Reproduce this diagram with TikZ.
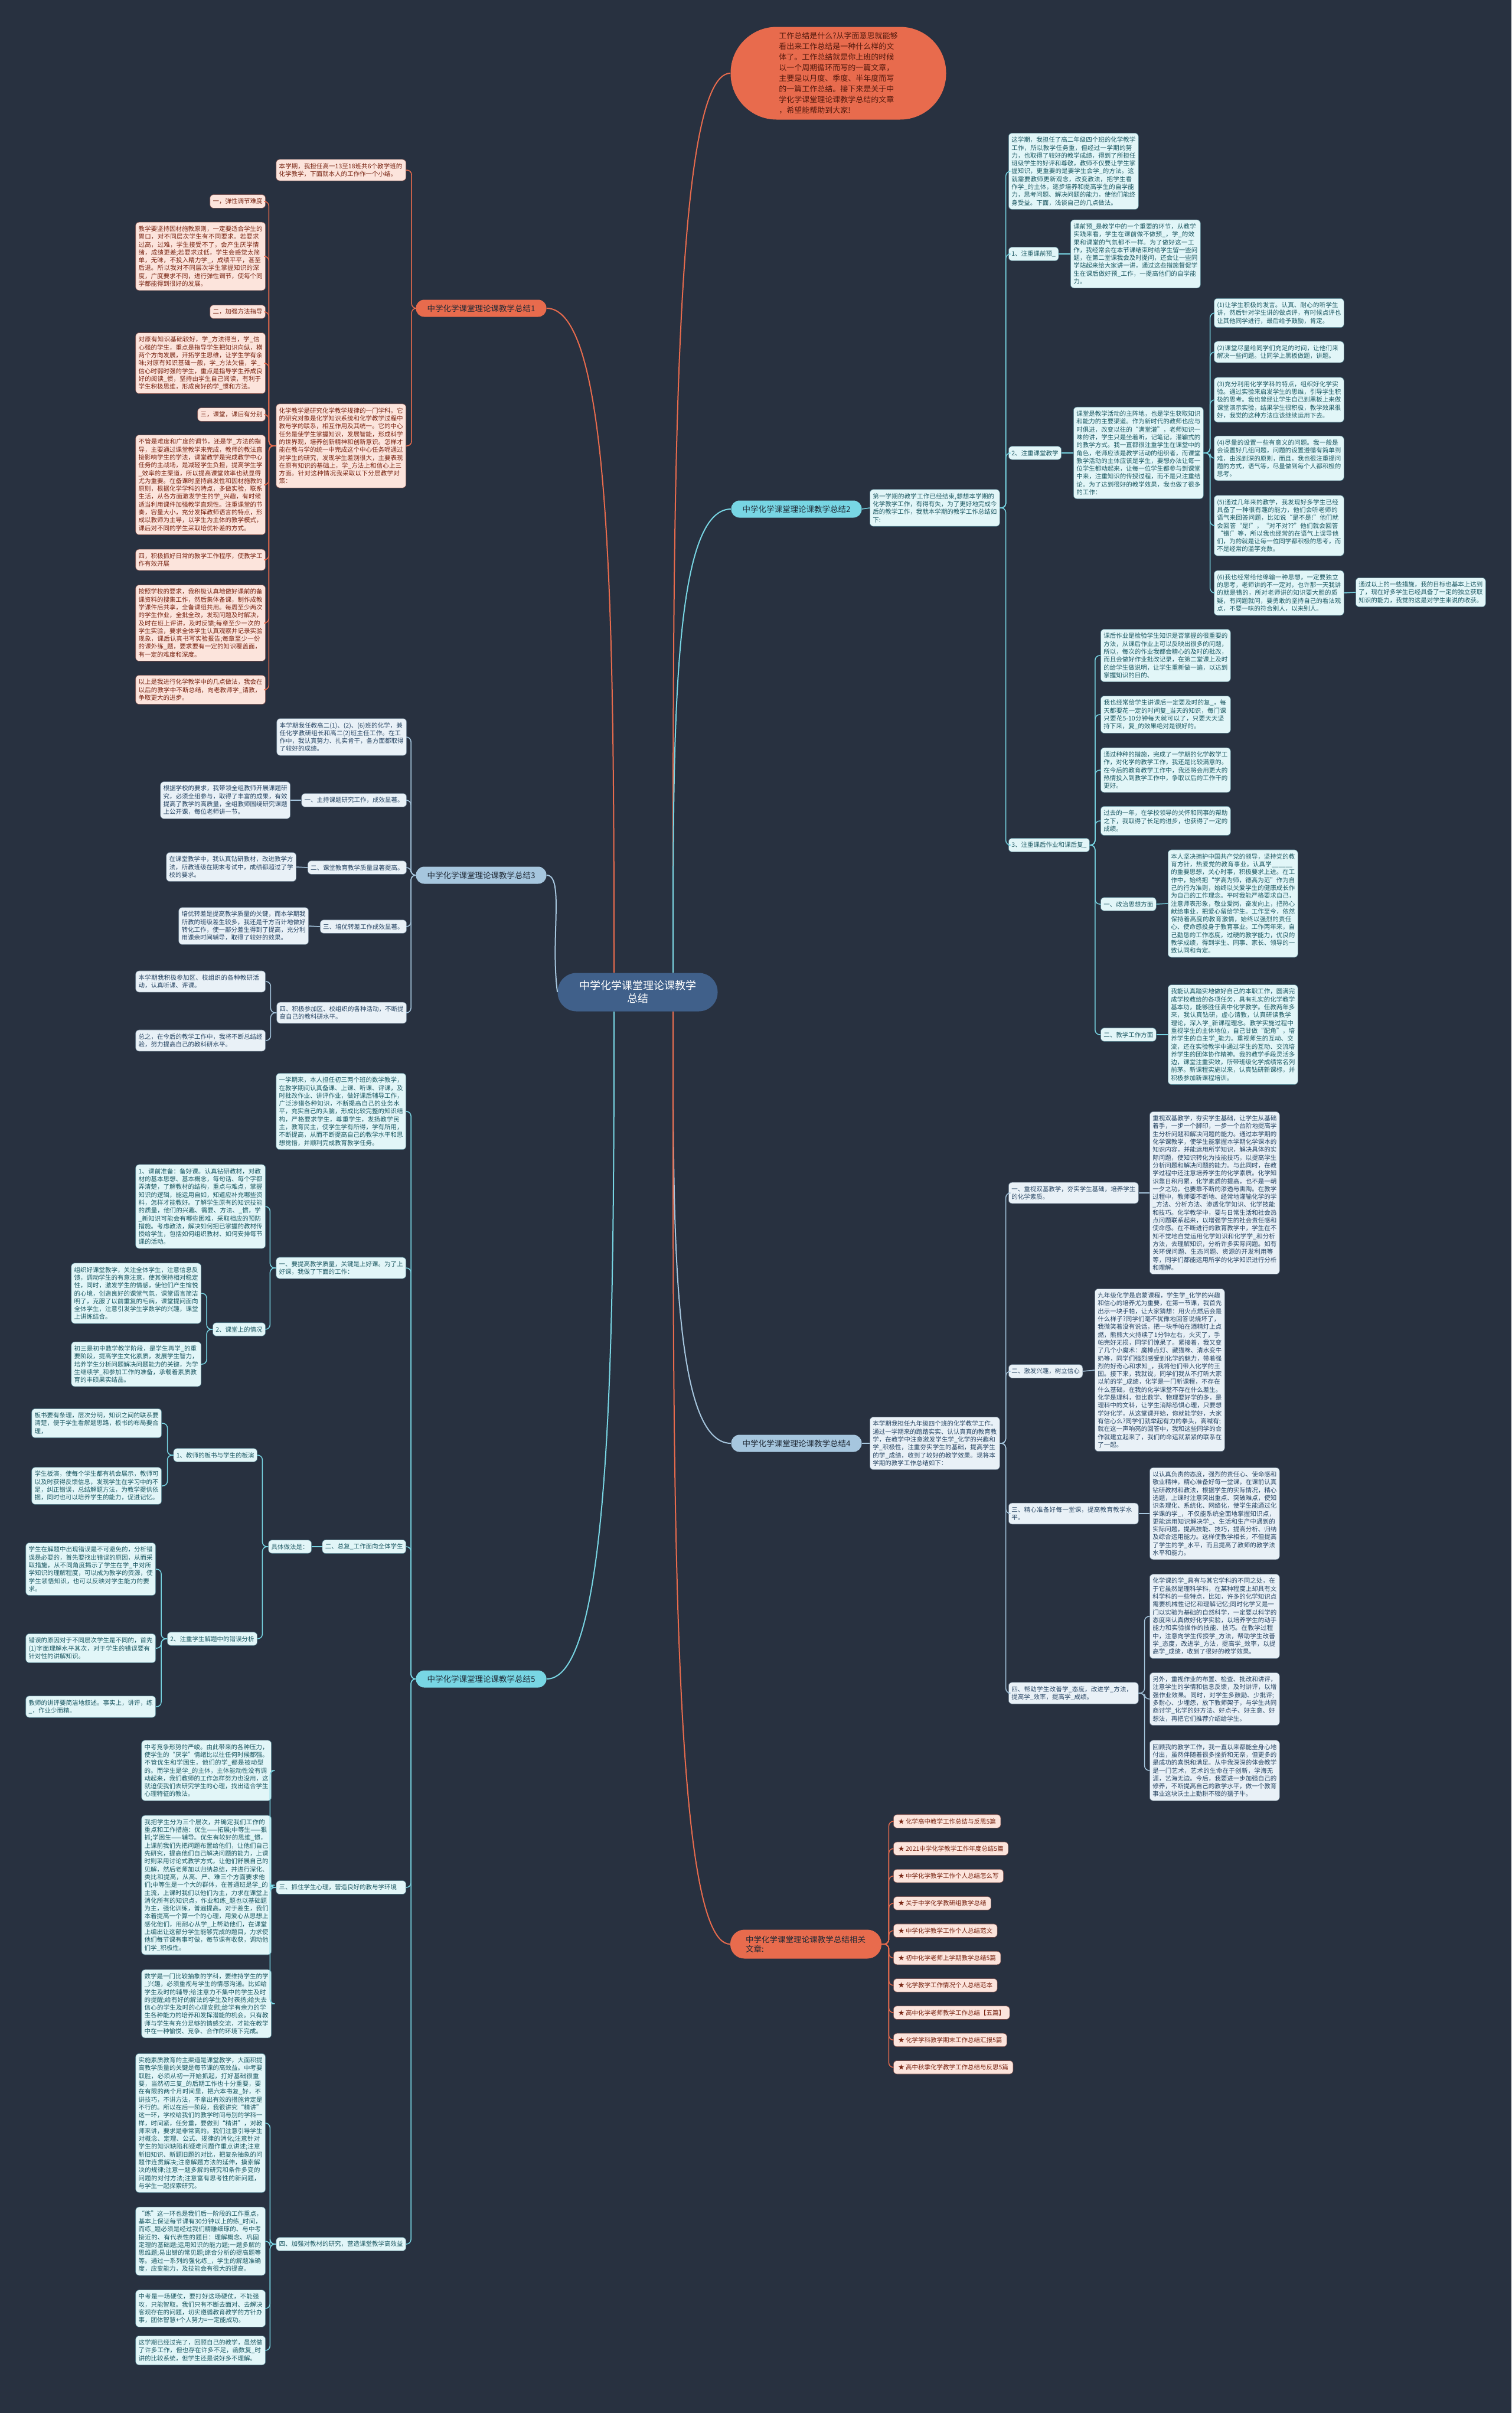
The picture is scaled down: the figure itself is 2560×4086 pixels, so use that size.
\documentclass[tikz,border=0pt]{standalone}
\usepackage{fontspec}
\setmainfont{Noto Sans CJK SC}
\XeTeXlinebreaklocale "zh"
\XeTeXlinebreakskip=0pt plus 0.5pt
\usepackage{xcolor}
\definecolor{bgnavy}{RGB}{40,49,64}
\definecolor{coral}{RGB}{232,107,77}
\definecolor{coralfill}{RGB}{252,228,220}
\definecolor{coraltext}{RGB}{120,36,18}
\definecolor{aqua}{RGB}{120,214,228}
\definecolor{aquafill}{RGB}{226,246,248}
\definecolor{aquatext}{RGB}{28,88,98}
\definecolor{steel}{RGB}{166,198,222}
\definecolor{steelfill}{RGB}{233,241,247}
\definecolor{steeltext}{RGB}{38,68,98}
\definecolor{hubblue}{RGB}{64,96,138}
\definecolor{labeltext}{RGB}{30,40,52}
\usetikzlibrary{positioning, calc}

\newcommand\parafont{\fontsize{5.25}{6.65}\selectfont}

\begin{document}
\begin{tikzpicture}[x=0.5pt, y=-0.5pt,
        hub/.style={rectangle, rounded corners=16pt, fill=hubblue, text=white, minimum width=135.5pt, minimum height=32.5pt, align=center, font=\fontsize{9}{11}\selectfont},
        intro/.style={rectangle, rounded corners=39pt, fill=coral, text=coraltext!70!black, minimum width=182.5pt, minimum height=78.5pt, align=left, font=\fontsize{6.5}{9}\selectfont},
        branch/.style={rectangle, rounded corners=7pt, minimum width=110.5pt, minimum height=14.5pt, font=\fontsize{6.75}{8}\selectfont, text=labeltext},
        para/.style={rectangle, rounded corners=3pt, inner xsep=2.5pt, inner ysep=3.2pt, text width=105pt, align=left, font=\parafont},
        head/.style={rectangle, rounded corners=3pt, inner xsep=2.5pt, inner ysep=3.2pt, font=\parafont},
        pinkbox/.style={fill=coralfill, text=coraltext, draw=coral!45!bgnavy, line width=0.3pt},
        seabox/.style={fill=aquafill, text=aquatext, draw=aqua!45!bgnavy, line width=0.3pt},
        icebox/.style={fill=steelfill, text=steeltext, draw=steel!45!bgnavy, line width=0.3pt},
        curve/.style={draw, line width=1pt},
        twig/.style={draw, line width=0.75pt, rounded corners=4pt}]

    \fill[bgnavy] (0,0) rectangle (2560,4086);
    \useasboundingbox (0,0) rectangle (2560,4086);

    \node[hub] (hub) at (1080,1680) {中学化学课堂理论课教学\\总结};
    \node[intro] (intro) at (1420,124) {工作总结是什么?从字面意思就能够\\看出来工作总结是一种什么样的文\\体了。工作总结就是你上班的时候\\以一个周期循环而写的一篇文章，\\主要是以月度、季度、半年度而写\\的一篇工作总结。接下来是关于中\\学化学课堂理论课教学总结的文章\\，希望能帮助到大家!};

    \node[branch, fill=coral] (b1) at (815,522) {中学化学课堂理论课教学总结1};
    \node[branch, fill=aqua] (b2) at (1349,862) {中学化学课堂理论课教学总结2};
    \node[branch, fill=steel] (b3) at (815,1482) {中学化学课堂理论课教学总结3};
    \node[branch, fill=steel] (b4) at (1349,2444) {中学化学课堂理论课教学总结4};
    \node[branch, fill=aqua] (b5) at (815,2843) {中学化学课堂理论课教学总结5};
    \node[branch, fill=coral, text width=102pt, align=left, minimum width=128pt, minimum height=24.5pt, rounded corners=12pt, inner xsep=12pt] (b6) at (1365,3292) {中学化学课堂理论课教学总结相关文章:};

    \draw[curve, coral] ($(hub.north)+(60,0)$) .. controls +(0,-760) and +(-100,0) .. (intro.west);
    \draw[curve, coral] ($(hub.north)+(-40,0)$) .. controls +(0,-600) and +(110,0) .. (b1.east);
    \draw[curve, aqua] ($(hub.north)+(60,0)$) .. controls +(0,-400) and +(-100,0) .. (b2.west);
    \draw[curve, steel] (hub.west) .. controls +(-12,-90) and +(30,0) .. (b3.east);
    \draw[curve, steel] ($(hub.south)+(60,0)$) .. controls +(0,365) and +(-100,0) .. (b4.west);
    \draw[curve, aqua] ($(hub.south)+(-40,0)$) .. controls +(0,560) and +(110,0) .. (b5.east);
    \draw[curve, coral] ($(hub.south)+(60,0)$) .. controls +(0,790) and +(-100,0) .. (b6.west);

    % 1
    \node[para, pinkbox, anchor=east] (b1pa) at (688,288) {本学期，我担任高一13至18班共6个教学班的化学教学，下面就本人的工作作一个小结。};
    \node[para, pinkbox, anchor=east] (b1pb) at (688,755) {化学教学是研究化学教学规律的一门学科。它的研究对象是化学知识系统和化学教学过程中教与学的联系，相互作用及其统一。它的中心任务是使学生掌握知识，发展智能，形成科学的世界观，培养创新精神和创新意识。怎样才能在教与学的统一中完成这个中心任务呢通过对学生的研究，发现学生差别很大，主要表现在原有知识的基础上，学\_方法上和信心上三方面。针对这种情况我采取以下分层教学对策：};
    \node[head, pinkbox, anchor=east] (b1h1) at (450,341) {一，弹性调节难度};
    \node[para, pinkbox, anchor=east] (b1p1) at (450,434) {教学要坚持因材施教原则，一定要适合学生的胃口，对不同层次学生有不同要求。若要求过高，过难，学生接受不了，会产生厌学情绪，成绩更差;若要求过低，学生会感觉太简单，无味，不投入精力学\_，成绩平平，甚至后退。所以我对不同层次学生掌握知识的深度，广度要求不同，进行弹性调节，使每个同学都能得到很好的发展。};
    \node[head, pinkbox, anchor=east] (b1h2) at (450,528) {二，加强方法指导};
    \node[para, pinkbox, anchor=east] (b1p2) at (450,615) {对原有知识基础较好，学\_方法得当，学\_信心强的学生，重点是指导学生把知识向纵，横两个方向发展，开拓学生思维，让学生学有余味;对原有知识基础一般，学\_方法欠佳，学\_信心时弱时强的学生，重点是指导学生养成良好的阅读\_惯，坚持由学生自己阅读，有利于学生积极思维，形成良好的学\_惯和方法。};
    \node[head, pinkbox, anchor=east] (b1h3) at (450,702) {三，课堂，课后有分别};
    \node[para, pinkbox, anchor=east] (b1p3) at (450,821) {不管是难度和广度的调节，还是学\_方法的指导，主要通过课堂教学来完成，教师的教法直接影响学生的学法，课堂教学是完成教学中心任务的主战场，是减轻学生负担，提高学生学\_效率的主渠道，所以提高课堂效率也就显得尤为重要。在备课时坚持启发性和因材施教的原则，根据化学学科的特点，多做实验，联系生活，从各方面激发学生的学\_兴趣，有时候适当利用课件加强教学直观性。注重课堂的节奏，容量大小，充分发挥教师语言的特点，形成以教师为主导，以学生为主体的教学模式，课后对不同的学生采取培优补差的方式。};
    \node[para, pinkbox, anchor=east] (b1h4) at (450,948) {四，积极抓好日常的教学工作程序，使教学工作有效开展};
    \node[para, pinkbox, anchor=east] (b1p4) at (450,1055) {按照学校的要求，我积极认真地做好课前的备课资料的搜集工作，然后集体备课，制作成教学课件后共享，全备课组共用。每周至少两次的学生作业，全批全改，发现问题及时解决，及时在班上评讲，及时反馈;每章至少一次的学生实验，要求全体学生认真观察并记录实验现象，课后认真书写实验报告;每章至少一份的课外练\_题，要求要有一定的知识覆盖面，有一定的难度和深度。};
    \node[para, pinkbox, anchor=east] (b1p5) at (450,1168) {以上是我进行化学教学中的几点做法，我会在以后的教学中不断总结，向老教师学\_请教，争取更大的进步。};

    \foreach \n in {b1pa,b1pb} \draw[twig, coral] (b1.west) -- ++(-7,0) |- (\n.east);
    \foreach \n in {b1h1,b1p1,b1h2,b1p2,b1h3,b1p3,b1h4,b1p4,b1p5} \draw[twig, coral] (b1pb.west) -- ++(-12,0) |- (\n.east);

    % 3
    \node[para, icebox, anchor=east] (b3pa) at (689,1248) {本学期我任教高二(1)、(2)、(6)班的化学，兼任化学教研组长和高二(2)班主任工作。在工作中，我认真努力、扎实肯干，各方面都取得了较好的成绩。};
    \node[head, icebox, anchor=east] (b3h1) at (689,1355) {一、主持课题研究工作，成效显著。};
    \node[head, icebox, anchor=east] (b3h2) at (689,1469) {二、课堂教育教学质量显著提高。};
    \node[head, icebox, anchor=east] (b3h3) at (689,1569) {三、培优转差工作成效显著。};
    \node[para, icebox, anchor=east] (b3h4) at (689,1715) {四、积极参加区、校组织的各种活动，不断提高自己的教科研水平。};
    \node[para, icebox, anchor=east] (b3p1) at (492,1355) {根据学校的要求，我带领全组教师开展课题研究，必须全组参与，取得了丰富的成果，有效提高了教学的高质量，全组教师围绕研究课题上公开课，每位老师讲一节。};
    \node[para, icebox, anchor=east] (b3p2) at (502,1468) {在课堂教学中，我认真钻研教材，改进教学方法，所教班级在期末考试中，成绩都超过了学校的要求。};
    \node[para, icebox, anchor=east] (b3p3) at (523,1568) {培优转差是提高教学质量的关键，而本学期我所教的班级差生较多，我还是千方百计地做好转化工作，使一部分差生得到了提高，充分利用课余时间辅导，取得了较好的效果。};
    \node[para, icebox, anchor=east] (b3p4) at (450,1662) {本学期我积极参加区、校组织的各种教研活动，认真听课、评课。};
    \node[para, icebox, anchor=east] (b3p5) at (450,1762) {总之，在今后的教学工作中，我将不断总结经验，努力提高自己的教科研水平。};

    \foreach \n in {b3pa,b3h1,b3h2,b3h3,b3h4} \draw[twig, steel] (b3.west) -- ++(-8,0) |- (\n.east);
    \draw[twig, steel] (b3h1.west) -- (b3p1.east);
    \draw[twig, steel] (b3h2.west) -- (b3p2.east);
    \draw[twig, steel] (b3h3.west) -- (b3p3.east);
    \foreach \n in {b3p4,b3p5} \draw[twig, steel] (b3h4.west) -- ++(-10,0) |- (\n.east);

    % 5
    \node[para, seabox, anchor=east] (b5pa) at (688,1882) {一学期来，本人担任初三两个班的数学教学，在教学期间认真备课、上课、听课、评课，及时批改作业、讲评作业，做好课后辅导工作，广泛涉猎各种知识，不断提高自己的业务水平，充实自己的头脑，形成比较完整的知识结构，严格要求学生，尊重学生，发扬教学民主，教育民主，使学生学有所得，学有所用，不断提高，从而不断提高自己的教学水平和思想觉悟，并顺利完成教育教学任务。};
    \node[para, seabox, anchor=east] (b5h1) at (688,2147) {一、要提高教学质量，关键是上好课。为了上好课，我做了下面的工作：};
    \node[para, seabox, anchor=east] (b5c1) at (450,2043) {1、课前准备：备好课。认真钻研教材，对教材的基本思想、基本概念，每句话、每个字都弄清楚，了解教材的结构，重点与难点，掌握知识的逻辑，能运用自如，知道应补充哪些资料，怎样才能教好。了解学生原有的知识技能的质量，他们的兴趣、需要、方法、\_惯，学\_新知识可能会有哪些困难，采取相应的预防措施。考虑教法，解决如何把已掌握的教材传授给学生，包括如何组织教材、如何安排每节课的活动。};
    \node[head, seabox, anchor=east] (b5c2) at (450,2251) {2、课堂上的情况};
    \node[para, seabox, anchor=east] (b5c2a) at (341,2190) {组织好课堂教学，关注全体学生，注意信息反馈，调动学生的有意注意，使其保持相对稳定性，同时，激发学生的情感，使他们产生愉悦的心境，创造良好的课堂气氛，课堂语言简洁明了，克服了以前重复的毛病，课堂提问面向全体学生，注意引发学生学数学的兴趣，课堂上讲练结合。};
    \node[para, seabox, anchor=east] (b5c2b) at (341,2310) {初三是初中数学教学阶段，是学生再学\_的重要阶段，提高学生文化素质，发展学生智力，培养学生分析问题解决问题能力的关键，为学生继续学\_和参加工作的准备，承载着素质教育的丰硕果实结晶。};
    \node[head, seabox, anchor=east] (b5h2) at (688,2619) {二、总复\_工作面向全体学生};
    \node[head, seabox, anchor=east] (b5jt) at (528,2619) {具体做法是：};
    \node[head, seabox, anchor=east] (b5d1) at (436,2464) {1、教师的板书与学生的板演};
    \node[para, seabox, anchor=east] (b5d1a) at (274,2410) {板书要有条理，层次分明，知识之间的联系要清楚，便于学生看解题思路，板书的布局要合理，};
    \node[para, seabox, anchor=east] (b5d1b) at (274,2516) {学生板演，使每个学生都有机会展示，教师可以及时获得反馈信息，发现学生在学习中的不足，纠正错误，总结解题方法，为教学提供依据，同时也可以培养学生的能力，促进记忆。};
    \node[head, seabox, anchor=east] (b5d2) at (436,2775) {2、注重学生解题中的错误分析};
    \node[para, seabox, anchor=east] (b5d2a) at (264,2657) {学生在解题中出现错误是不可避免的，分析错误是必要的，首先要找出错误的原因，从而采取措施，从不同角度揭示了学生在学\_中对所学知识的理解程度，可以成为教学的资源，使学生领悟知识，也可以反映对学生能力的要求。};
    \node[para, seabox, anchor=east] (b5d2b) at (264,2791) {错误的原因对于不同层次学生是不同的，首先(1)字面理解水平其次，对于学生的错误要有针对性的讲解知识。};
    \node[para, seabox, anchor=east] (b5d2c) at (264,2890) {教师的讲评要简洁地叙述。事实上，讲评，练\_，作业少而精。};
    \node[para, seabox, anchor=east] (b5h3) at (688,3196) {三、抓住学生心理，营造良好的教与学环境};
    \node[para, seabox, anchor=east] (b5e1) at (460,2998) {中考竞争形势的严峻。由此带来的各种压力，使学生的“厌学”情绪比以往任何时候都强。不管优生和学困生，他们的学\_都是被动型的。而学生是学\_的主体，主体能动性没有调动起来，我们教师的工作怎样努力也没用，这就迫使我们去研究学生的心理，找出适合学生心理特征的教法。};
    \node[para, seabox, anchor=east] (b5e2) at (460,3192) {我把学生分为三个层次，并确定我们工作的重点和工作措施：优生——拓展;中等生——狠抓;学困生——辅导。优生有较好的思维\_惯，上课前我们先把问题布置给他们，让他们自己先研究，提高他们自己解决问题的能力，上课时则采用讨论式教学方式，让他们舒展自己的见解，然后老师加以归纳总结，并进行深化、类比和提高，从高、严、难三个方面要求他们;中等生是一个大的群体，在普通班是学\_的主流，上课时我们以他们为主，力求在课堂上消化所有的知识点，作业和练\_题也以基础题为主，强化训练，普遍提高。对于差生，我们本着提高一个算一个的心理，用爱心从思想上感化他们，用耐心从学\_上帮助他们，在课堂上编出让这部分学生能够完成的题目，力求使他们每节课有事可做，每节课有收获，调动他们学\_积极性。};
    \node[para, seabox, anchor=east] (b5e3) at (460,3393) {数学是一门比较抽象的学科，要维持学生的学\_兴趣，必须重视与学生的情感沟通。比如给学生及时的辅导;给注意力不集中的学生及时的提醒;给有好的解法的学生及时表扬;给失去信心的学生及时的心理安慰;给学有余力的学生各种能力的培养和发挥潜能的机会。只有教师与学生有充分足够的情感交流，才能在教学中在一种愉悦、竞争、合作的环境下完成。};
    \node[para, seabox, anchor=east] (b5h4) at (688,3800) {四、加强对教材的研究，营造课堂教学高效益};
    \node[para, seabox, anchor=east] (b5f1) at (450,3595) {实施素质教育的主渠道是课堂教学，大面积提高教学质量的关键是每节课的高效益。中考要取胜，必须从初一开始抓起，打好基础很重要，当然初三复\_的后期工作也十分重要，要在有限的两个月时间里，把六本书复\_好，不讲技巧，不讲方法，不拿出有效的措施肯定是不行的。所以在后一阶段，我很讲究“精讲”这一环，学校给我们的教学时间与别的学科一样，时间紧，任务重，要做到“精讲”，对教师来讲，要求是非常高的。我们注意引导学生对概念、定理、公式、规律的消化;注意针对学生的知识缺陷和疑难问题作重点讲述;注意新旧知识、新题旧题的对比，把复杂抽象的问题作连贯解决;注意解题方法的延伸，摸索解决的规律;注意一题多解的研究和条件多变的问题的对付方法;注意富有思考性的新问题，与学生一起探索研究。};
    \node[para, seabox, anchor=east] (b5f2) at (450,3795) {“练”这一环也是我们后一阶段的工作重点，基本上保证每节课有30分钟以上的练\_时间，而练\_题必须是经过我们精雕细琢的、与中考接近的、有代表性的题目：理解概念、巩固定理的基础题;运用知识的能力题;一题多解的思维题;易出错的常见题;综合分析的提高题等等。通过一系列的强化练\_，学生的解题准确度，应变能力，及技能会有很大的提高。};
    \node[para, seabox, anchor=east] (b5f3) at (450,3909) {中考是一场硬仗，要打好这场硬仗，不能强攻，只能智取。我们只有不断去面对、去解决客观存在的问题，切实遵循教育教学的方针办事，团体智慧+个人努力=一定能成功。};
    \node[para, seabox, anchor=east] (b5f4) at (450,3980) {这学期已经过完了，回顾自己的教学，虽然做了许多工作，但也存在许多不足，函数复\_时讲的比较系统，但学生还是说好多不理解。};

    \foreach \n in {b5pa,b5h1,b5h2,b5h3,b5h4} \draw[twig, aqua] (b5.west) -- ++(-8,0) |- (\n.east);
    \foreach \n in {b5c1,b5c2} \draw[twig, aqua] (b5h1.west) -- ++(-10,0) |- (\n.east);
    \foreach \n in {b5c2a,b5c2b} \draw[twig, aqua] (b5c2.west) -- ++(-10,0) |- (\n.east);
    \draw[twig, aqua] (b5h2.west) -- (b5jt.east);
    \foreach \n in {b5d1,b5d2} \draw[twig, aqua] (b5jt.west) -- ++(-10,0) |- (\n.east);
    \foreach \n in {b5d1a,b5d1b} \draw[twig, aqua] (b5d1.west) -- ++(-10,0) |- (\n.east);
    \foreach \n in {b5d2a,b5d2b,b5d2c} \draw[twig, aqua] (b5d2.west) -- ++(-10,0) |- (\n.east);
    \foreach \n in {b5e1,b5e2,b5e3} \draw[twig, aqua] (b5h3.west) -- ++(-10,0) |- (\n.east);
    \foreach \n in {b5f1,b5f2,b5f3,b5f4} \draw[twig, aqua] (b5h4.west) -- ++(-10,0) |- (\n.east);

    % 2
    \node[para, seabox, anchor=west] (b2p) at (1473,860) {第一学期的教学工作已经结束,想想本学期的化学教学工作，有得有失，为了更好地完成今后的教学工作，我就本学期的教学工作总结如下:};
    \node[para, seabox, anchor=west] (b2pa) at (1708,290) {这学期，我担任了高二年级四个班的化学教学工作，所以教学任务重，但经过一学期的努力，也取得了较好的教学成绩，得到了所担任班级学生的好评和尊敬，教师不仅要让学生掌握知识，更重要的是要学生会学\_的方法。这就需要教师更新观念，改变教法，把学生看作学\_的主体，逐步培养和提高学生的自学能力，思考问题、解决问题的能力，使他们能终身受益。下面，浅谈自己的几点做法。};
    \node[head, seabox, anchor=west] (b2k1) at (1708,430) {1、注重课前预\_};
    \node[para, seabox, anchor=west] (b2k1p) at (1813,430) {课前预\_是教学中的一个重要的环节，从教学实践来看，学生在课前做不做预\_，学\_的效果和课堂的气氛都不一样。为了做好这一工作，我经常会在本节课结束时给学生留一些问题，在第二堂课我会及时提问，还会让一些同学站起来给大家讲一讲，通过这些措施督促学生在课后做好预\_工作，一提高他们的自学能力。};
    \node[head, seabox, anchor=west] (b2k2) at (1708,767) {2、注重课堂教学};
    \node[para, seabox, anchor=west] (b2k2p) at (1818,767) {课堂是教学活动的主阵地，也是学生获取知识和能力的主要渠道。作为新时代的教师也应与时俱进，改变以往的“满堂灌”，老师知识一味的讲，学生只是坐着听，记笔记，灌输式的的教学方式。我一直都很注重学生在课堂中的角色，老师应该是教学活动的组织者，而课堂教学活动的主体应该是学生，要想办法让每一位学生都动起来，让每一位学生都参与到课堂中来，注重知识的传授过程，而不是只注重结论。为了达到很好的教学效果，我也做了很多的工作：};
    \node[para, seabox, anchor=west] (b2m1) at (2056,530) {(1)让学生积极的发言。认真、耐心的听学生讲，然后针对学生讲的做点评，有时候点评也让其他同学进行，最后给予鼓励，肯定。};
    \node[para, seabox, anchor=west] (b2m2) at (2056,596) {(2)课堂尽量给同学们充足的时间，让他们来解决一些问题。让同学上黑板做题，讲题。};
    \node[para, seabox, anchor=west] (b2m3) at (2056,677) {(3)充分利用化学学科的特点，组织好化学实验。通过实验来启发学生的思维，引导学生积极的思考。我也曾经让学生自己到黑板上来做课堂演示实验，结果学生很积极，教学效果很好，我觉的这种方法应该继续运用下去。};
    \node[para, seabox, anchor=west] (b2m4) at (2056,776) {(4)尽量的设置一些有意义的问题。我一般是会设置好几组问题，问题的设置遵循有简单到难，由浅到深的原则，而且，我也很注重提问题的方式，语气等，尽量做到每个人都积极的思考。};
    \node[para, seabox, anchor=west] (b2m5) at (2056,890) {(5)通过几年来的教学，我发现好多学生已经具备了一种很有趣的能力，他们会听老师的语气来回答问题，比如说“是不是!”他们就会回答“是!”，“对不对??”他们就会回答“错!”等，所以我也经常的在语气上误导他们，为的就是让每一位同学都积极的思考，而不是经常的滥竽充数。};
    \node[para, seabox, anchor=west] (b2m6) at (2056,1004) {(6)我也经常给他绵输一种思想，一定要独立的思考，老师讲的不一定对，也许那一天我讲的就是错的，所对老师讲的知识要大胆的质疑，有问题就问，要勇敢的坚持自己的看法观点，不要一味的符合别人，以来别人。};
    \node[para, seabox, anchor=west] (b2m6p) at (2296,1003) {通过以上的一些措施，我的目标也基本上达到了，现在好多学生已经具备了一定的独立获取知识的能力，我觉的这是对学生来说的收获。};
    \node[head, seabox, anchor=west] (b2k3) at (1708,1431) {3、注重课后作业和课后复\_};
    \node[para, seabox, anchor=west] (b2n1) at (1864,1110) {课后作业是检验学生知识是否掌握的很重要的方法，从课后作业上可以反映出很多的问题，所以，每次的作业我都会精心的及时的批改，而且会做好作业批改记录，在第二堂课上及时的给学生做说明，让学生重新做一遍，以达到掌握知识的目的、};
    \node[para, seabox, anchor=west] (b2n2) at (1864,1210) {我也经常给学生讲课后一定要及时的复\_，每天都要花一定的时间复\_当天的知识，每门课只要花5-10分钟每天就可以了，只要天天坚持下来，复\_的效果绝对是很好的。};
    \node[para, seabox, anchor=west] (b2n3) at (1864,1304) {通过种种的措施，完成了一学期的化学教学工作，对化学的教学工作，我还是比较满意的。在今后的教育教学工作中，我还将会用更大的热情投入到教学工作中，争取以后的工作干的更好。};
    \node[para, seabox, anchor=west] (b2n4) at (1864,1390) {过去的一年，在学校领导的关怀和同事的帮助之下，我取得了长足的进步，也获得了一定的成绩。};
    \node[head, seabox, anchor=west] (b2n5) at (1864,1531) {一、政治思想方面};
    \node[para, seabox, anchor=west] (b2n5p) at (1978,1530) {本人坚决拥护中国共产党的领导，坚持党的教育方针，热爱党的教育事业。认真学\_\_\_\_\_\_的重要思想，关心时事，积极要求上进。在工作中，始终把“学高为师，德高为范”作为自己的行为准则，始终以关爱学生的健康成长作为自己的工作理念。平时我能严格要求自己，注意师表形象，敬业爱岗，奋发向上，把热心献给事业，把爱心留给学生。工作至今，依然保持着高度的教育激情，始终以强烈的责任心、使命感投身于教育事业。工作两年来，自己勤恳的工作态度，过硬的教学能力，优良的教学成绩，得到学生、同事、家长、领导的一致认同和肯定。};
    \node[head, seabox, anchor=west] (b2n6) at (1864,1752) {二、教学工作方面};
    \node[para, seabox, anchor=west] (b2n6p) at (1978,1752) {我能认真踏实地做好自己的本职工作，圆满完成学校教给的各项任务，具有扎实的化学教学基本功，能够胜任高中化学教学。任教两年多来，我认真钻研，虚心请教，认真研读教学理论，深入学\_新课程理念。教学实施过程中重视学生的主体地位，自己甘做“配角”，培养学生的自主学\_能力。重视师生的互动、交流，还在实验教学中通过学生的互动、交流培养学生的团体协作精神。我的教学手段灵活多边，课堂注重实效，所带班级化学成绩常名列前茅。新课程实施以来，认真钻研新课标，并积极参加新课程培训。};

    \draw[twig, aqua] (b2.east) -- (b2p.west);
    \foreach \n in {b2pa,b2k1,b2k2,b2k3} \draw[twig, aqua] (b2p.east) -- ++(10,0) |- (\n.west);
    \draw[twig, aqua] (b2k1.east) -- (b2k1p.west);
    \draw[twig, aqua] (b2k2.east) -- (b2k2p.west);
    \foreach \n in {b2m1,b2m2,b2m3,b2m4,b2m5,b2m6} \draw[twig, aqua] (b2k2p.east) -- ++(11,0) |- (\n.west);
    \draw[twig, aqua] (b2m6.east) -- (b2m6p.west);
    \foreach \n in {b2n1,b2n2,b2n3,b2n4,b2n5,b2n6} \draw[twig, aqua] (b2k3.east) -- ++(9,0) |- (\n.west);
    \draw[twig, aqua] (b2n5.east) -- (b2n5p.west);
    \draw[twig, aqua] (b2n6.east) -- (b2n6p.west);

    % 4
    \node[para, icebox, anchor=west] (b4p) at (1473,2444) {本学期我担任九年级四个班的化学教学工作。通过一学期来的踏踏实实、认认真真的教育教学，在教学中注意激发学生学\_化学的兴趣和学\_积极性，注重夯实学生的基础，提高学生的学\_成绩，收到了较好的教学效果。现将本学期的教学工作总结如下：};
    \node[para, icebox, anchor=west] (b4q1) at (1708,2020) {一、重视双基教学，夯实学生基础，培养学生的化学素质。};
    \node[para, icebox, anchor=west] (b4q1p) at (1947,2020) {重视双基教学，夯实学生基础，让学生从基础着手，一步一个脚印，一步一个台阶地提高学生分析问题和解决问题的能力。通过本学期的化学课教学，使学生能掌握本学期化学课本的知识内容，并能运用所学知识，解决具体的实际问题，使知识转化为技能技巧，以提高学生分析问题和解决问题的能力。与此同时，在教学过程中还注意培养学生的化学素质。化学知识靠日积月累，化学素质的提高，也不是一朝一夕之功，也要靠不断的渗透与熏陶。在教学过程中，教师要不断地、经常地灌输化学的学\_方法、分析方法、渗透化学知识、化学技能和技巧。化学教学中，要与日常生活和社会热点问题联系起来，以增强学生的社会责任感和使命感。在不断进行的教育教学中，学生在不知不觉地自觉运用化学知识和化学学\_和分析方法，去理解知识，分析许多实际问题。如有关环保问题、生态问题、资源的开发利用等等，同学们都能运用所学的化学知识进行分析和理解。};
    \node[head, icebox, anchor=west] (b4q2) at (1708,2322) {二、激发兴趣，树立信心};
    \node[para, icebox, anchor=west] (b4q2p) at (1854,2320) {九年级化学是启蒙课程，学生学\_化学的兴趣和信心的培养尤为重要，在第一节课，我首先出示一块手帕，让大家猜想：用火点燃后会是什么样子?同学们毫不犹豫地回答说烧坏了，我微笑着没有说话，把一块手帕在酒精灯上点燃，熊熊大火持续了1分钟左右，火灭了，手帕完好无损，同学们惊呆了。紧接着，我又变了几个小魔术：魔棒点灯、藏猫咪、清水变牛奶等，同学们强烈感受到化学的魅力，带着强烈的好奇心和求知\_，我将他们带入化学的王国。接下来，我就说，同学们我从不打听大家以前的学\_成绩，化学是一门新课程，不存在什么基础，在我的化学课堂不存在什么差生。化学是理科，但比数学、物理要好学的多，是理科中的文科，让学生消除恐惧心理，只要想学好化学，从这堂课开始，你就能学好，大家有信心么?同学们就举起有力的拳头，高喊有;就在这一声响亮的回答中，我和这些同学的合作就建立起来了，我们的命运就紧紧的联系在了一起。};
    \node[para, icebox, anchor=west] (b4q3) at (1708,2563) {三、精心准备好每一堂课，提高教育教学水平。};
    \node[para, icebox, anchor=west] (b4q3p) at (1947,2563) {以认真负责的态度，强烈的责任心、使命感和敬业精神，精心准备好每一堂课，在课前认真钻研教材和教法，根据学生的实际情况，精心选题，上课时注意突出重点、突破难点，使知识条理化、系统化、网络化，使学生能通过化学课的学\_，不仅能系统全面地掌握知识点，更能运用知识解决学\_、生活和生产中遇到的实际问题，提高技能、技巧，提高分析、归纳及综合运用能力。这样使教学相长，不但提高了学生的学\_水平，而且提高了教师的教学法水平和能力。};
    \node[para, icebox, anchor=west] (b4q4) at (1708,2867) {四、帮助学生改善学\_态度，改进学\_方法，提高学\_效率，提高学\_成绩。};
    \node[para, icebox, anchor=west] (b4q4a) at (1947,2737) {化学课的学\_具有与其它学科的不同之处，在于它虽然是理科学科，在某种程度上却具有文科学科的一些特点，比如，许多的化学知识点需要机械性记忆和理解记忆;同时化学又是一门以实验为基础的自然科学，一定要以科学的态度来认真做好化学实验，以培养学生的动手能力和实验操作的技能、技巧。在教学过程中，注意向学生传授学\_方法，帮助学生改善学\_态度，改进学\_方法，提高学\_效率，以提高学\_成绩，收到了很好的教学效果。};
    \node[para, icebox, anchor=west] (b4q4b) at (1947,2877) {另外，重视作业的布置、检查、批改和讲评，注意学生的学情和信息反馈，及时讲评，以增强作业效果。同时，对学生多鼓励、少批评;多耐心、少埋怨，放下教师架子，与学生共同商讨学\_化学的好方法、好点子、好主意、好想法，再把它们推荐介绍给学生。};
    \node[para, icebox, anchor=west] (b4q4c) at (1947,2998) {回顾我的教学工作，我一直以来都能全身心地付出，虽然伴随着很多挫折和无奈，但更多的是成功的喜悦和满足。从中我深深的体会教学是一门艺术，艺术的生命在于创新，学海无涯，艺海无边。今后，我要进一步加强自己的修养，不断提高自己的教学水平，做一个教育事业这块沃土上勤耕不辍的孺子牛。};

    \draw[twig, steel] (b4.east) -- (b4p.west);
    \foreach \n in {b4q1,b4q2,b4q3,b4q4} \draw[twig, steel] (b4p.east) -- ++(10,0) |- (\n.west);
    \draw[twig, steel] (b4q1.east) -- (b4q1p.west);
    \draw[twig, steel] (b4q2.east) -- (b4q2p.west);
    \draw[twig, steel] (b4q3.east) -- (b4q3p.west);
    \foreach \n in {b4q4a,b4q4b,b4q4c} \draw[twig, steel] (b4q4.east) -- ++(10,0) |- (\n.west);

    % 6
    \foreach \t [count=\i] in {化学高中教学工作总结与反思5篇, 2021中学化学教学工作年度总结5篇, 中学化学教学工作个人总结怎么写, 关于中学化学教研组教学总结, 中学化学教学工作个人总结范文, 初中化学老师上学期教学总结5篇, 化学教学工作情况个人总结范本, 高中化学老师教学工作总结【五篇】, 化学学科教学期末工作总结汇报5篇, 高中秋季化学教学工作总结与反思5篇} {
        \node[head, pinkbox, anchor=west, inner xsep=4pt] (b6r\i) at (1513,{3084+46.3*(\i-1)}) {★ \t};
        \draw[twig, coral] (b6.east) -- ++(12,0) |- (b6r\i.west);
    }
\end{tikzpicture}
\end{document}
